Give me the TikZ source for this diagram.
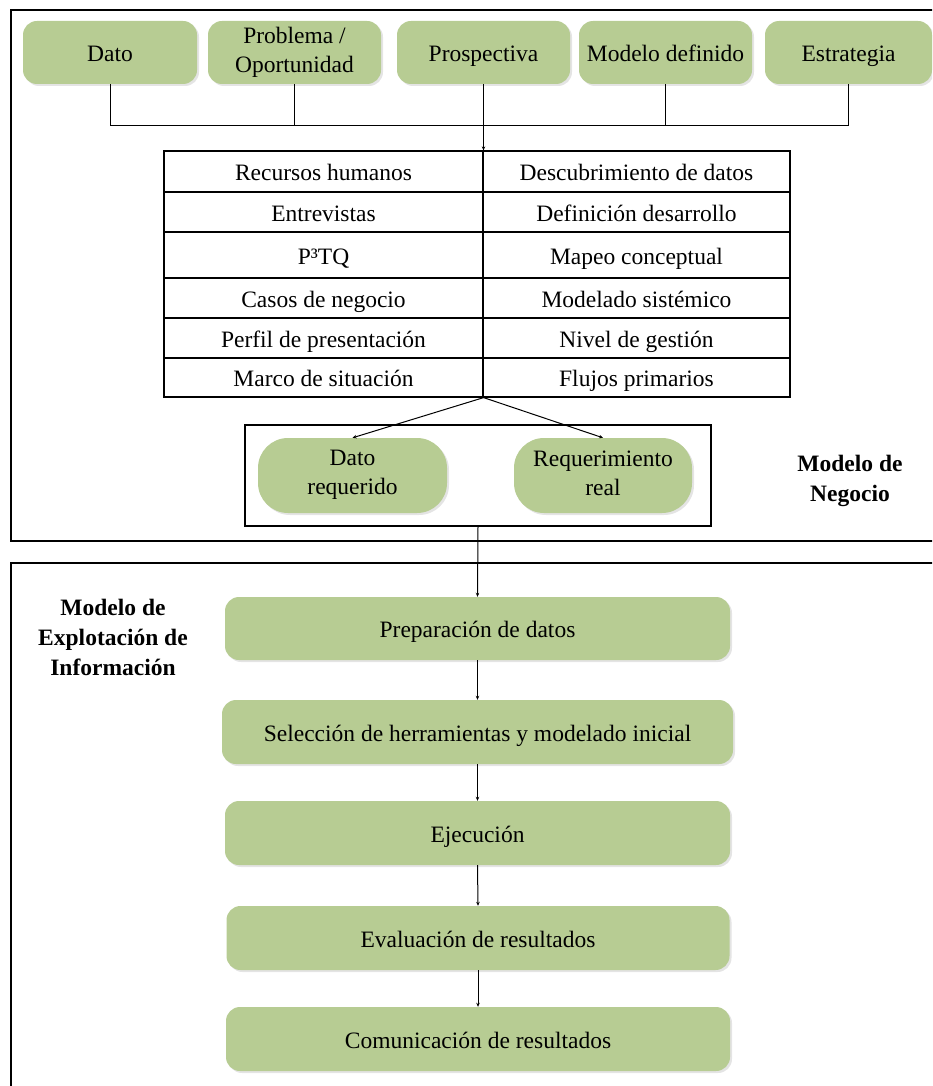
\documentclass[tikz,border=0pt]{standalone}
\usepackage{fontspec}
\setmainfont{Liberation Serif}
\usetikzlibrary{arrows.meta,shadows}
\definecolor{boxgreen}{HTML}{B7CC93}
\definecolor{shadowgray}{HTML}{E4E4E4}
% line strut that keeps every label at the same vertical position
\newcommand{\lblstrut}{\rule[-5.5pt]{0pt}{29pt}}
\begin{document}
\begin{tikzpicture}[x=1pt,y=-1pt,
  every node/.style={font=\fontsize{23.5}{29}\selectfont, align=center, inner sep=0pt,
    execute at begin node=\lblstrut, execute at end node=\lblstrut},
  gbox/.style={fill=boxgreen, draw=none, rounded corners=14pt,
    drop shadow={shadow xshift=2pt, shadow yshift=-2pt, fill=shadowgray, opacity=1}},
  pill/.style={gbox, rounded corners=30pt},
  cell/.style={draw, line width=1.2pt, minimum width=319pt},
  cellr/.style={draw, line width=1.2pt, minimum width=307pt},
  frame/.style={draw, line width=1.2pt},
  link/.style={line width=1pt},
  arr/.style={line width=1pt, -{Stealth[length=4pt,width=3.5pt]}},
  title/.style={font=\fontsize{23.5}{30}\selectfont\bfseries}
]
\useasboundingbox (0,0) rectangle (932,1086);
\clip (0,0) rectangle (932,1086);

% outer section frames
\draw[frame] (11,10) rectangle (950,541);
\draw[frame] (11,563) rectangle (950,1100);

% top row of inputs
\node[gbox, minimum width=174pt, minimum height=63pt] (dato) at (110,52.5) {Dato};
\node[gbox, minimum width=173pt, minimum height=63pt] (prob) at (294.5,52.5) {Problema /\\Oportunidad};
\node[gbox, minimum width=173pt, minimum height=63pt] (pros) at (483.5,52.5) {Prospectiva};
\node[gbox, minimum width=173pt, minimum height=63pt] (mdef) at (665.5,52.5) {Modelo definido};
\node[gbox, minimum width=167pt, minimum height=63pt] (estr) at (848.5,52.5) {Estrategia};

\coordinate (jn) at (483.5,126);

% table of activities
\node[cell, minimum height=41pt] (l1) at (323.5,171.5) {Recursos humanos};
\node[cellr, minimum height=41pt] (r1) at (636.5,171.5) {Descubrimiento de datos};
\node[cell, minimum height=40pt] (l2) at (323.5,212) {Entrevistas};
\node[cellr, minimum height=40pt] (r2) at (636.5,212) {Definición desarrollo};
\node[cell, minimum height=46pt] (l3) at (323.5,255) {P³TQ};
\node[cellr, minimum height=46pt] (r3) at (636.5,255) {Mapeo conceptual};
\node[cell, minimum height=40pt] (l4) at (323.5,298) {Casos de negocio};
\node[cellr, minimum height=40pt] (r4) at (636.5,298) {Modelado sistémico};
\node[cell, minimum height=40pt] (l5) at (323.5,338) {Perfil de presentación};
\node[cellr, minimum height=40pt] (r5) at (636.5,338) {Nivel de gestión};
\node[cell, minimum height=39pt] (l6) at (323.5,377.5) {Marco de situación};
\node[cellr, minimum height=39pt] (r6) at (636.5,377.5) {Flujos primarios};

% requirement outputs
\node[frame, minimum width=466pt, minimum height=101pt] (inner) at (478,475.5) {};
\node[pill, minimum width=189pt, minimum height=75pt] (dreq) at (352.5,475.5) {Dato\\requerido};
\node[pill, minimum width=178pt, minimum height=75pt] (rreal) at (603,475.5) {Requerimiento\\real};

% section labels
\node[title] (negocio) at (850,481) {Modelo de\\Negocio};
\node[title] (explot) at (113,640) {Modelo de\\Explotación de\\Información};

% exploitation steps
\node[gbox, minimum width=505pt, minimum height=63pt] (prep) at (477.5,628.5) {Preparación de datos};
\node[gbox, minimum width=511pt, minimum height=64pt] (sel) at (477.5,732) {Selección de herramientas y modelado inicial};
\node[gbox, minimum width=505pt, minimum height=64pt] (ejec) at (477.5,833) {Ejecución};
\node[gbox, minimum width=503pt, minimum height=64pt] (eval) at (478,938) {Evaluación de resultados};
\node[gbox, minimum width=504pt, minimum height=64pt] (com) at (478,1039) {Comunicación de resultados};

% connectors
\draw[link] (dato.south) |- (jn);
\draw[link] (estr.south) |- (jn);
\draw[link] (prob.south) -- (prob.south |- jn);
\draw[link] (mdef.south) -- (mdef.south |- jn);
\draw[arr] (pros.south) -- (pros.south |- l1.north);
\draw[arr] (l6.south east) -- (dreq.north);
\draw[arr] (l6.south east) -- (rreal.north);
\draw[arr] (inner.south) -- (prep.north);
\draw[arr] (prep.south) -- (sel.north);
\draw[arr] (sel.south) -- (ejec.north);
\draw[arr] (ejec.south) -- (eval.north);
\draw[arr] (eval.south) -- (com.north);
\end{tikzpicture}
\end{document}
